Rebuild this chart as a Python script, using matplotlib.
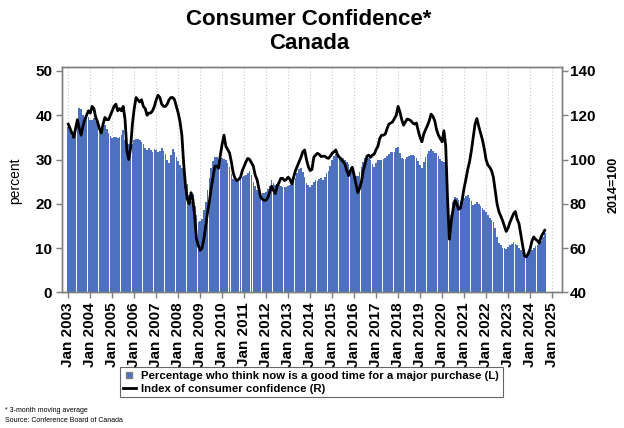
import numpy as np
import matplotlib
matplotlib.use("Agg")
import matplotlib.pyplot as plt
from matplotlib.lines import Line2D

plt.rcParams["font.family"] = ["Liberation Sans", "DejaVu Sans"]

# -------------------------
# Data (monthly, Jan 2003 - Sep 2024)
# -------------------------
years = list(range(2003, 2026))
tick_labels = [f"Jan {y}" for y in years]

# Percentage who think now is a good time for a major purchase (left axis)
pct_good_time = [
    37.4, 36.7, 35.2, 35.3, 36.5, 38.2, 41.6, 41.4, 40.0, 39.7, 40.4, 39.5,  # 2003
    39.0, 38.9, 39.3, 38.7, 38.2, 37.8, 36.7, 37.2, 37.8, 36.8, 36.0, 35.3,  # 2004
    34.9, 35.1, 35.0, 34.8, 35.1, 35.6, 36.7, 34.5, 32.5, 33.5, 34.0, 33.4,  # 2005
    34.3, 34.7, 34.6, 34.3, 33.9, 33.5, 32.6, 32.2, 32.5, 32.1, 31.8, 32.3,  # 2006
    32.2, 31.6, 31.9, 32.5, 32.0, 31.2, 30.0, 29.2, 31.0, 32.4, 31.8, 30.5,  # 2007
    29.6, 28.8, 28.0, 27.7, 26.8, 24.5, 22.0, 20.6, 22.2, 19.5, 17.5, 15.8,  # 2008
    16.2, 16.6, 18.6, 20.4, 23.0, 25.8, 28.0, 29.6, 30.6, 30.6, 30.2, 29.9,  # 2009
    30.3, 30.1, 29.9, 29.1, 28.2, 26.8, 25.6, 25.4, 25.4, 25.6, 25.8, 26.0,  # 2010
    26.2, 26.5, 27.0, 27.4, 26.6, 25.0, 24.0, 23.2, 22.7, 22.5, 22.4, 22.5,  # 2011
    22.6, 23.3, 24.0, 25.4, 24.6, 24.2, 24.5, 24.3, 24.0, 23.8, 23.9, 23.7,  # 2012
    24.0, 24.3, 25.0, 25.4, 25.8, 27.0, 27.8, 28.0, 27.2, 26.0, 24.8, 24.2,  # 2013
    23.9, 24.2, 25.0, 25.4, 25.2, 25.6, 25.8, 25.4, 26.0, 26.9, 27.5, 28.5,  # 2014
    29.8, 30.8, 31.2, 31.0, 30.9, 30.6, 30.3, 29.8, 29.4, 29.0, 28.4, 27.6,  # 2015
    27.1, 26.3, 26.2, 27.2, 28.2, 29.5, 30.3, 30.9, 30.4, 29.8, 28.9, 28.4,  # 2016
    29.3, 29.8, 29.8, 29.9, 30.1, 30.4, 30.9, 31.2, 31.6, 31.6, 31.8, 32.5,  # 2017
    32.8, 31.5, 30.3, 30.1, 30.1, 30.5, 30.9, 31.0, 31.0, 30.7, 30.3, 29.7,  # 2018
    28.8, 28.0, 29.5, 30.6, 31.3, 31.9, 32.4, 31.9, 31.5, 31.4, 30.8, 30.1,  # 2019
    29.7, 29.4, 29.0, 23.0, 15.0, 17.5, 20.5, 21.5, 21.3, 20.8, 20.6, 20.8,  # 2020
    21.3, 21.8, 22.0, 21.4, 20.6, 19.8, 20.0, 20.4, 20.0, 19.6, 19.0, 18.6,  # 2021
    18.2, 17.4, 16.8, 16.3, 15.8, 14.5, 12.6, 11.2, 10.6, 10.1, 9.9, 9.8,    # 2022
    10.3, 10.6, 11.0, 11.4, 11.0, 10.6, 10.0, 9.6, 9.0, 8.6, 8.4, 8.8,       # 2023
    9.3, 9.6, 10.1, 10.4, 10.7, 11.0, 11.6, 12.4, 13.3,                      # 2024
]

# Index of consumer confidence, 2014=100 (right axis)
confidence_index = [
    116, 114, 112, 110, 114, 118, 114, 111, 115, 118, 120, 122,  # 2003
    121, 124, 123, 119, 117, 114, 112, 116, 119, 118, 118, 120,  # 2004
    122, 124, 125, 122, 123, 122, 124, 118, 104, 100, 105, 116,  # 2005
    123, 128, 127, 126, 127, 124, 123, 120, 121, 121, 122, 124,  # 2006
    127, 129, 128, 125, 124, 124, 125, 127, 128, 128, 127, 124,  # 2007
    121, 117, 111, 98, 88, 82, 80, 85, 82, 74, 64, 61,           # 2008
    59, 60, 64, 70, 76, 81, 87, 92, 97, 97, 96, 102,             # 2009
    107, 111, 106, 104.5, 103, 99, 94, 91.5, 90.5, 91, 92, 95,   # 2010
    97, 99, 100.5, 100, 98.5, 97, 93, 91, 87, 83, 82, 81.5,      # 2011
    81.7, 83, 85.5, 88, 86, 84.6, 88, 89.5, 91.5, 91.5, 90.5, 91,  # 2012
    92, 91, 89, 92, 95, 97, 99, 101, 103.5, 104.3, 100, 96.8,    # 2013
    95, 95.5, 101, 102, 102.8, 102.3, 101.3, 101.5, 101.5, 100.8, 100.5, 101.5,  # 2014
    102.8, 103.5, 104.3, 102, 101, 100, 99, 98, 95, 92.7, 95, 96.5,  # 2015
    93, 89, 85, 87, 90, 95, 98, 101.5, 102, 101, 102, 102.5,     # 2016
    104.5, 106, 109.5, 111, 111, 111.5, 114, 116, 116.5, 117, 118.5, 120,  # 2017
    124, 121.5, 118, 115.5, 117, 118.3, 118, 117.5, 116.5, 116, 116.5, 113,  # 2018
    110, 108, 111.5, 113.5, 115.3, 117.5, 120.5, 119.5, 117.5, 113.5, 111, 109.5,  # 2019
    108, 113, 106, 82, 64, 72, 77.5, 81.5, 80, 77.5, 78, 82,     # 2020
    87, 91, 95.5, 99, 104, 110, 116, 118.5, 115, 112, 109, 105,  # 2021
    100, 97.5, 96.5, 95, 92, 86, 80, 76.5, 74.5, 72.5, 70, 67.5,  # 2022
    69, 71.5, 73.5, 75.5, 76.5, 73, 71, 66, 61, 56.5, 56, 57.5,  # 2023
    59.5, 63, 65, 64, 63.3, 62.2, 65, 66.5, 68,                  # 2024
]

bar_color = "#4d71bf"
spine_color = "#7f7f7f"

months = np.arange(len(pct_good_time))

# -------------------------
# Figure
# -------------------------
fig = plt.figure(figsize=(6.24, 4.28), dpi=100)
ax = fig.add_axes([0.0994, 0.317, 0.8005, 0.5265])

ax.bar(months, pct_good_time, width=0.9, color=bar_color, linewidth=0, zorder=2)
ax.set_xlim(-3.4, 269.2)
ax.set_ylim(0, 50.9)
ax.set_yticks(range(0, 51, 10))
ax.set_xticks(np.arange(0, 12 * len(years), 12))
ax.set_xticklabels(tick_labels, rotation=90)
ax.xaxis.grid(True, linestyle=(0, (1, 2)), color="#c8c8c8", linewidth=0.8, zorder=0)
ax.set_axisbelow(True)

ax2 = ax.twinx()
ax2.plot(months, confidence_index, color="black", linewidth=2, zorder=3)
ax2.set_ylim(40, 141.8)
ax2.set_yticks(range(40, 141, 20))

for a in (ax, ax2):
    for s in a.spines.values():
        s.set_color(spine_color)
        s.set_linewidth(1)
    a.tick_params(direction="out", length=4, width=1, color=spine_color,
                  labelsize=11, pad=3)
    for lbl in a.get_xticklabels() + a.get_yticklabels():
        lbl.set_fontweight("bold")
ax2.tick_params(axis="y", pad=2)

fig.text(0.495, 0.926, "Consumer Confidence*\nCanada", ha="center", va="center",
         fontsize=16, fontweight="bold", linespacing=1.15)
fig.text(15 / 624, 1 - 181 / 428, "percent", rotation=90, ha="center",
         va="center", fontsize=10)
fig.text(614 / 624, 1 - 185 / 428, "2014=100", rotation=90, ha="center",
         va="center", fontsize=9, fontweight="bold")

handles = [
    Line2D([], [], marker="s", linestyle="none", markerfacecolor=bar_color,
           markeredgecolor="#808080", markersize=5),
    Line2D([], [], color="black", linewidth=2),
]
labels = ["Percentage who think now is a good time for a major purchase (L)",
          "Index of consumer confidence (R)"]
leg = fig.legend(handles, labels, loc="center", bbox_to_anchor=(0.4985, 0.107),
                 prop={"size": 8.2, "weight": "bold"}, fancybox=False,
                 handlelength=1.1, handletextpad=0.5, borderpad=0.3,
                 labelspacing=0.25, borderaxespad=0)
leg.get_frame().set_edgecolor("#404040")
leg.get_frame().set_linewidth(0.8)

fig.text(0.008, 1 - 410 / 428, "* 3-month moving average", fontsize=5, va="center")
fig.text(0.008, 1 - 421 / 428, "Source: Conference Board of Canada", fontsize=5,
         va="center")

fig.savefig("out.png", dpi=100)
